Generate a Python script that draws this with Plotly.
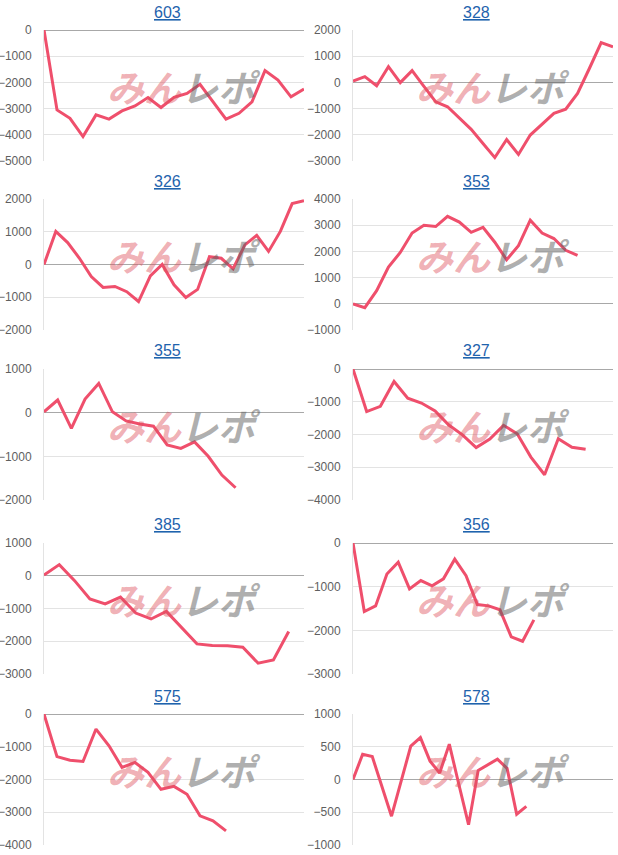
import plotly.graph_objects as go

# ---------------- data ----------------
machines = ["603", "328", "326", "353", "355", "327", "385", "356", "575", "578"]
n_slots = [21, 23, 23, 23, 20, 20, 18, 24, 21, 28]
y_min = [-5000, -3000, -2000, -1000, -2000, -4000, -3000, -3000, -4000, -1000]
y_max = [0, 2000, 2000, 4000, 1000, 0, 1000, 0, 0, 1000]
y_step = [1000, 1000, 1000, 1000, 1000, 1000, 1000, 1000, 1000, 500]

vals_603 = [0, -3050, -3370, -4070, -3240, -3400, -3090, -2900, -2580, -2960, -2570,
            -2420, -2070, -2730, -3400, -3180, -2740, -1550, -1910, -2550, -2250]
vals_328 = [50, 220, -130, 600, -10, 450, -150, -740, -930, -1370, -1790, -2330,
            -2870, -2180, -2750, -2010, -1600, -1180, -1020, -420, 530, 1520, 1360]
vals_326 = [0, 1010, 670, 190, -370, -700, -670, -830, -1130, -350, 0, -620,
            -1010, -760, 240, 190, -130, 600, 890, 400, 1010, 1860, 1950]
vals_353 = [0, -150, 500, 1400, 1960, 2700, 3000, 2950, 3340, 3120, 2730, 2920,
            2350, 1680, 2220, 3190, 2700, 2490, 2040, 1850]
vals_355 = [20, 290, -360, 310, 670, 20, -190, -260, -310, -740, -820, -670,
            -1000, -1430, -1720]
vals_327 = [0, -1300, -1140, -380, -890, -1040, -1280, -1710, -2010, -2400, -2140,
            -1720, -1980, -2690, -3230, -2130, -2390, -2450]
vals_385 = [20, 340, -150, -710, -860, -650, -1140, -1320, -1090, -1600, -2080,
            -2130, -2140, -2180, -2670, -2570, -1700]
vals_356 = [0, -1570, -1440, -710, -440, -1050, -860, -980, -820, -370, -750,
            -1410, -1440, -1530, -2150, -2250, -1760]
vals_575 = [0, -1300, -1410, -1450, -460, -970, -1630, -1480, -1780, -2300, -2210,
            -2450, -3110, -3260, -3570]
vals_578 = [0, 385, 350, -90, -560, -25, 510, 640, 280, 100, 540, -80, -690, 140,
            230, 310, 170, -530, -410]

series = [vals_603, vals_328, vals_326, vals_353, vals_355,
          vals_327, vals_385, vals_356, vals_575, vals_578]

# ---------------- layout geometry (pixels) ----------------
W, H = 618, 855
col_left = [44, 353]
col_right = [304, 613]
col_title_x = [167, 476]
row_top = [30, 199, 369, 543, 714]
row_bottom = [161, 330, 500, 674, 845]
row_title_y = [12, 181, 351, 524, 696]

LINE = "#ef4f6c"
GRID = "#e3e3e3"
ZERO = "#a8a8a8"
TICK = "#5f5f5f"
FONT = "Liberation Sans, Arial, sans-serif"

fig = go.Figure()
layout = dict(
    width=W, height=H, autosize=False,
    margin=dict(l=0, r=0, t=0, b=0, autoexpand=False),
    paper_bgcolor="white", plot_bgcolor="white",
    showlegend=False,
    font=dict(family=FONT, size=12, color=TICK),
)
annotations = []

for i, name in enumerate(machines):
    k = i + 1
    sfx = "" if k == 1 else str(k)
    r, c = divmod(i, 2)
    vals = series[i]
    n = n_slots[i]
    x = list(range(n))
    y = list(vals) + [None] * (n - len(vals))
    fig.add_trace(go.Scatter(
        x=x, y=y, mode="lines", xaxis="x" + sfx, yaxis="y" + sfx,
        line=dict(color=LINE, width=3), connectgaps=False, hoverinfo="skip",
    ))
    layout["xaxis" + sfx] = dict(
        domain=[col_left[c] / W, col_right[c] / W], anchor="y" + sfx,
        range=[0, n - 1], showgrid=False, zeroline=False, showticklabels=False,
        showline=False, ticks="", fixedrange=True, automargin=False,
    )
    layout["yaxis" + sfx] = dict(
        domain=[1 - row_bottom[r] / H, 1 - row_top[r] / H], anchor="x" + sfx,
        range=[y_min[i], y_max[i]], dtick=y_step[i], tick0=0,
        showgrid=True, gridcolor=GRID, gridwidth=1,
        zeroline=True, zerolinecolor=ZERO, zerolinewidth=1,
        showline=True, linecolor=GRID, linewidth=1,
        ticks="", ticklabelstandoff=9, automargin=False,
        tickfont=dict(family=FONT, size=12, color=TICK),
        fixedrange=True,
    )
    annotations.append(dict(
        text="<u>" + name + "</u>", xref="paper", yref="paper",
        x=col_title_x[c] / W, y=1 - row_title_y[r] / H,
        xanchor="center", yanchor="middle", showarrow=False,
        font=dict(family=FONT, size=16, color="#1f63ad"),
    ))
    # watermark "みんレポ"
    annotations.append(dict(
        text=("<b><i><span style='color:rgba(221,80,92,0.45)'>みん</span>"
              "<span style='color:rgba(95,95,95,0.5)'>レポ</span></i></b>"),
        xref="x" + sfx + " domain", yref="y" + sfx + " domain",
        x=0.54, y=0.575, xanchor="center", yanchor="middle", showarrow=False,
        font=dict(family="Noto Sans CJK JP", size=37),
    ))

layout["annotations"] = annotations
fig.update_layout(**layout)
fig.write_html("out.html", config={"displayModeBar": False})
